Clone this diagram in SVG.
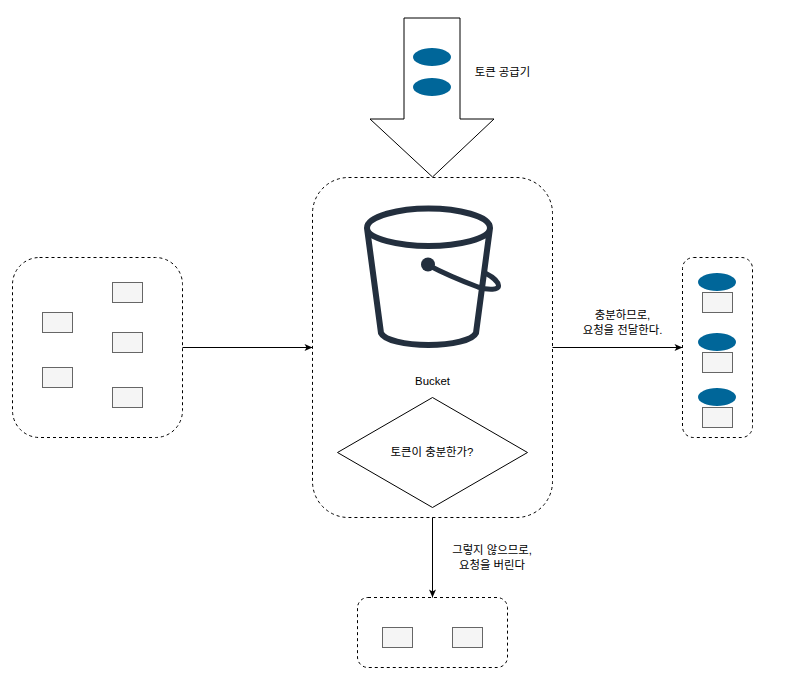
<svg xmlns="http://www.w3.org/2000/svg" width="785" height="696" viewBox="0 0 785 696">
<style>
text{font-family:"Liberation Sans","Noto Sans CJK KR",sans-serif;font-size:11.4px;fill:#000;text-anchor:middle}
.box{fill:#fff;stroke:#000;stroke-width:1;stroke-dasharray:3 3}
.req{fill:#f5f5f5;stroke:#666;stroke-width:1}
.tok{fill:#006699;stroke:none}
.con{fill:none;stroke:#000;stroke-width:1;marker-end:url(#a)}
.bk{fill:none;stroke:#232f3e;stroke-width:6;stroke-linecap:round;stroke-linejoin:round}
</style>
<defs><marker id="a" markerUnits="userSpaceOnUse" markerWidth="10" markerHeight="10" refX="9" refY="4" orient="auto"><path d="M1 0.500L9 4L1 7.500L3 4Z" fill="#000"/></marker></defs>
<rect width="785" height="696" fill="#fff"/>
<g id="supply">
<path d="M404 18H460V119H494L432.500 177L370 119H404Z" fill="#fff" stroke="#000" stroke-width="1"/>
<ellipse class="tok" cx="432" cy="57" rx="19" ry="9"/>
<ellipse class="tok" cx="432" cy="87" rx="19" ry="9"/>
<text x="502.500" y="75.500">토큰 공급기</text>
</g>
<g id="bucket-box">
<rect class="box" x="312.500" y="177.500" width="240" height="340" rx="36" ry="36"/>
<path class="bk" d="M367 228C367 216 400 208.500 428.500 208.500C458 208.500 490 216 490 228C490 239 458 246 428.500 246C400 246 367 239 367 228ZM367 228L381 333C384 340 405 345 428.500 345C452 345 473 340 476 333L490 228"/>
<path class="bk" style="stroke-width:5" d="M428 265C445 274 462 281 478 287C489 290.500 499 290 498.500 285.500C498 281 491 276 486 273.500"/>
<circle cx="428" cy="264.500" r="7" fill="#232f3e"/>
<text x="432.500" y="385">Bucket</text>
</g>
<g id="decision">
<path d="M432.500 397.500L527.500 452.500L432.500 507.500L337.500 452.500Z" fill="#fff" stroke="#000" stroke-width="1"/>
<text x="432" y="456">토큰이 충분한가?</text>
</g>
<g id="requests">
<rect class="box" x="12.500" y="257.500" width="170" height="180" rx="27" ry="27"/>
<rect class="req" x="112.500" y="282.500" width="30" height="20"/>
<rect class="req" x="42.500" y="312.500" width="30" height="20"/>
<rect class="req" x="112.500" y="332.500" width="30" height="20"/>
<rect class="req" x="42.500" y="367.500" width="30" height="20"/>
<rect class="req" x="112.500" y="387.500" width="30" height="20"/>
</g>
<g id="forwarded">
<rect class="box" x="682.500" y="257.500" width="70" height="180" rx="11" ry="11"/>
<rect class="req" x="702.500" y="292.500" width="30" height="20"/>
<ellipse class="tok" cx="717" cy="282" rx="19" ry="9"/>
<rect class="req" x="702.500" y="352.500" width="30" height="20"/>
<ellipse class="tok" cx="717" cy="342" rx="19" ry="9"/>
<rect class="req" x="702.500" y="407.500" width="30" height="20"/>
<ellipse class="tok" cx="717" cy="397" rx="19" ry="9"/>
</g>
<g id="dropped">
<rect class="box" x="357.500" y="597.500" width="150" height="70" rx="10.500" ry="10.500"/>
<rect class="req" x="382.500" y="627.500" width="30" height="20"/>
<rect class="req" x="452.500" y="627.500" width="30" height="20"/>
</g>
<g id="connectors">
<path class="con" d="M182.500 347.500H312.500"/>
<path class="con" d="M552.500 347.500H682.500"/>
<path class="con" d="M432.500 517.500V597.500"/>
</g>
<g id="labels">
<text x="622.500" y="318.500">충분하므로,</text>
<text x="622.500" y="333.500">요청을 전달한다.</text>
<text x="492" y="553.500">그렇지 않으므로,</text>
<text x="492" y="568.500">요청을 버린다</text>
</g>
</svg>
